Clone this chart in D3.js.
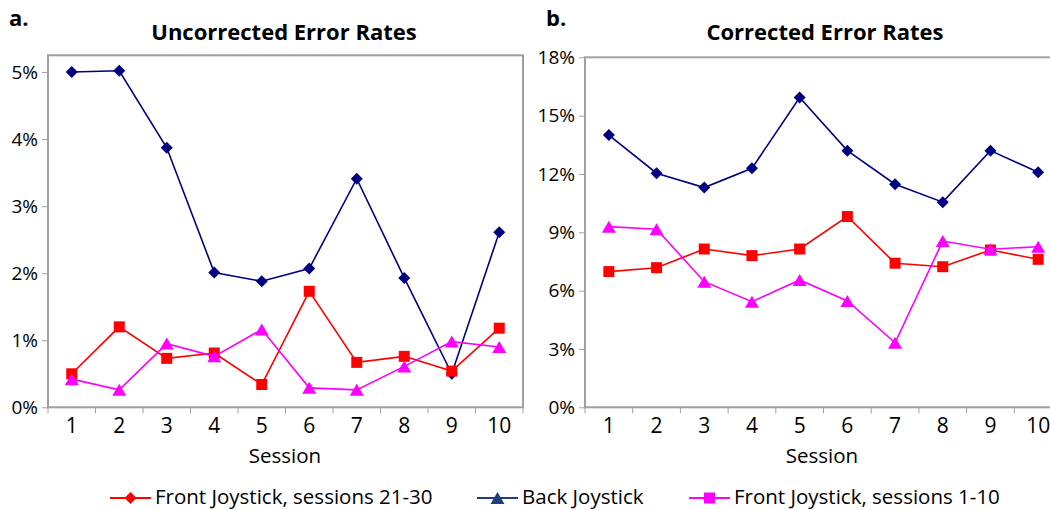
<!DOCTYPE html>
<html>
<head>
<meta charset="utf-8">
<script src="https://cdn.jsdelivr.net/npm/d3@7"></script>
<style>
  html, body { margin: 0; padding: 0; background: #fff; }
  svg { display: block; font-family: "Open Sans", "Noto Sans", sans-serif; }
</style>
</head>
<body>
<svg id="chart" width="1050" height="510"></svg>
<script>
// ---- data ----
const sessions = ["1", "2", "3", "4", "5", "6", "7", "8", "9", "10"];

const uncorrectedBack    = [0.0500, 0.0502, 0.0387, 0.0201, 0.0188, 0.0207, 0.0341, 0.0193, 0.0050, 0.0261];
const uncorrectedFront21 = [0.0050, 0.0120, 0.0073, 0.0081, 0.0034, 0.0173, 0.0067, 0.0076, 0.0054, 0.0118];
const uncorrectedFront1  = [0.0042, 0.0026, 0.0095, 0.0076, 0.0116, 0.0029, 0.0026, 0.0061, 0.0098, 0.0090];

const correctedBack    = [0.1400, 0.1204, 0.1130, 0.1229, 0.1593, 0.1320, 0.1147, 0.1055, 0.1320, 0.1209];
const correctedFront21 = [0.0698, 0.0718, 0.0814, 0.0780, 0.0814, 0.0981, 0.0741, 0.0723, 0.0809, 0.0761];
const correctedFront1  = [0.0929, 0.0916, 0.0646, 0.0543, 0.0655, 0.0547, 0.0332, 0.0855, 0.0813, 0.0826];

const uncorrectedTicks = [0, 0.01, 0.02, 0.03, 0.04, 0.05];
const correctedTicks   = [0, 0.03, 0.06, 0.09, 0.12, 0.15, 0.18];

const legendLabels = ["Front Joystick, sessions 21-30", "Back Joystick", "Front Joystick, sessions 1-10"];

// ---- styles ----
const NAVY = "#000080", RED = "#ff0000", MAGENTA = "#ff00ff";
const FRAME = "#a0a0a0";

const svg = d3.select("#chart");

function markerPath(shape, cx, cy) {
  if (shape === "diamond") {
    const r = 6;
    return `M${cx},${cy - r}L${cx + r},${cy}L${cx},${cy + r}L${cx - r},${cy}Z`;
  }
  if (shape === "square") {
    const h = 5.5;
    return `M${cx - h},${cy - h}H${cx + h}V${cy + h}H${cx - h}Z`;
  }
  // triangle
  const w = 7, ht = 6;
  return `M${cx},${cy - ht}L${cx + w},${cy + ht}L${cx - w},${cy + ht}Z`;
}

function panel(cfg) {
  const g = svg.append("g");
  const x = d3.scaleBand().domain(sessions).range([cfg.x0, cfg.x1]).padding(0);
  const y = d3.scaleLinear().domain([0, cfg.ymax]).range([cfg.yBot, cfg.yTop]);

  // frame
  g.append("rect")
    .attr("x", cfg.x0).attr("y", cfg.yTop)
    .attr("width", cfg.x1 - cfg.x0).attr("height", cfg.yBot - cfg.yTop)
    .attr("fill", "none").attr("stroke", FRAME).attr("stroke-width", 2);

  // y axis
  const yAxis = d3.axisLeft(y).tickValues(cfg.ticks)
    .tickFormat(d3.format(".0%")).tickSize(6).tickPadding(4);
  const ya = g.append("g").attr("transform", `translate(${cfg.x0},0)`).call(yAxis);
  ya.select(".domain").remove();
  ya.selectAll(".tick line").attr("stroke", FRAME).attr("stroke-width", 1);
  ya.selectAll(".tick text").attr("font-size", 19).attr("fill", "#000")
    .attr("font-family", "'Open Sans', sans-serif");

  // x axis: category labels and ticks at band boundaries
  const xAxis = d3.axisBottom(x).tickSize(0).tickPadding(11);
  const xa = g.append("g").attr("transform", `translate(0,${cfg.yBot})`).call(xAxis);
  xa.select(".domain").remove();
  xa.selectAll(".tick text").attr("font-size", 21).attr("fill", "#000")
    .attr("font-family", "'Open Sans', sans-serif");
  g.append("g").selectAll("line")
    .data(sessions.concat(["end"]))
    .join("line")
    .attr("x1", (d, i) => cfg.x0 + i * x.bandwidth())
    .attr("x2", (d, i) => cfg.x0 + i * x.bandwidth())
    .attr("y1", cfg.yBot).attr("y2", cfg.yBot + 6)
    .attr("stroke", FRAME).attr("stroke-width", 1);

  // series
  const line = d3.line()
    .x((d, i) => x(sessions[i]) + x.bandwidth() / 2)
    .y(d => y(d));
  cfg.series.forEach(s => {
    g.append("path").datum(s.values)
      .attr("d", line).attr("fill", "none")
      .attr("stroke", s.color).attr("stroke-width", 1.6);
    g.append("g").selectAll("path")
      .data(s.values).join("path")
      .attr("d", (d, i) => markerPath(s.shape, x(sessions[i]) + x.bandwidth() / 2, y(d)))
      .attr("fill", s.color);
  });

  // title
  g.append("text")
    .attr("x", cfg.titleX)
    .attr("y", 40)
    .attr("text-anchor", "middle")
    .attr("font-size", 22).attr("font-weight", "bold")
    .text(cfg.title);

  // panel letter
  g.append("text")
    .attr("x", cfg.letterX).attr("y", 26)
    .attr("font-size", 22).attr("font-weight", "bold")
    .text(cfg.letter);

  // x axis title
  g.append("text")
    .attr("x", cfg.sessionX)
    .attr("y", 463)
    .attr("text-anchor", "middle")
    .attr("font-size", 20.5)
    .text("Session");
}

panel({
  x0: 48, x1: 523, yTop: 55.3, yBot: 407.3, ymax: 0.0525,
  ticks: uncorrectedTicks,
  title: "Uncorrected Error Rates", titleX: 284, letter: "a.", letterX: 9, sessionX: 285,
  series: [
    { values: uncorrectedBack, color: NAVY, shape: "diamond" },
    { values: uncorrectedFront21, color: RED, shape: "square" },
    { values: uncorrectedFront1, color: MAGENTA, shape: "triangle" }
  ]
});

panel({
  x0: 585, x1: 1062, yTop: 57.3, yBot: 407.3, ymax: 0.18,
  ticks: correctedTicks,
  title: "Corrected Error Rates", titleX: 825, letter: "b.", letterX: 546, sessionX: 822,
  series: [
    { values: correctedBack, color: NAVY, shape: "diamond" },
    { values: correctedFront21, color: RED, shape: "square" },
    { values: correctedFront1, color: MAGENTA, shape: "triangle" }
  ]
});

// ---- legend ----
const legendItems = [
  { label: legendLabels[0], color: RED, shape: "diamond", lx: 110 },
  { label: legendLabels[1], color: "#1f3f7a", shape: "triangle", lx: 477 },
  { label: legendLabels[2], color: MAGENTA, shape: "square", lx: 689 }
];
const lg = svg.append("g");
legendItems.forEach(it => {
  const cy = 498;
  lg.append("line").attr("x1", it.lx).attr("x2", it.lx + 41)
    .attr("y1", cy).attr("y2", cy)
    .attr("stroke", it.color).attr("stroke-width", 2);
  lg.append("path").attr("d", markerPath(it.shape, it.lx + 20.5, cy)).attr("fill", it.color);
  lg.append("text").attr("x", it.lx + 45).attr("y", 504)
    .attr("font-size", 20.5).text(it.label);
});
</script>
</body>
</html>
